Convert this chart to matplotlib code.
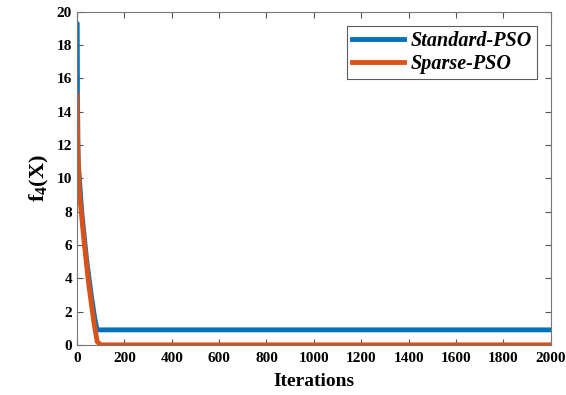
import matplotlib.pyplot as plt

# Convergence data
std_iter = [0, 1, 2, 5, 20, 40, 60, 75, 85, 2000]
std_vals = [19.3, 19.3, 15.0, 11.0, 8.0, 5.2, 3.0, 1.6, 0.9, 0.9]
sparse_iter = [0, 3, 10, 30, 50, 70, 85, 100, 2000]
sparse_vals = [15.0, 12.0, 9.2, 6.2, 3.6, 1.5, 0.2, 0.0, 0.0]

x_ticks = list(range(0, 2001, 200))
y_ticks = list(range(0, 21, 2))

plt.rcParams['font.family'] = 'Liberation Serif'
plt.rcParams['mathtext.fontset'] = 'custom'
plt.rcParams['mathtext.rm'] = 'Liberation Serif:bold'
plt.rcParams['mathtext.it'] = 'Liberation Serif:bold'

fig = plt.figure(figsize=(5.66, 3.95), dpi=100)
ax = fig.add_axes([0.136, 0.127, 0.837, 0.843])

ax.plot(std_iter, std_vals, color='#0072BD', lw=3.5, label='Standard-PSO')
ax.plot(sparse_iter, sparse_vals, color='#D95319', lw=3.5, label='Sparse-PSO')

ax.set_xlim(0, 2000)
ax.set_ylim(0, 20)
ax.set_xticks(x_ticks)
ax.set_yticks(y_ticks)
ax.tick_params(direction='in', top=True, right=True, labelsize=11, length=4, color='#555555')
ax.tick_params(axis='x', pad=5)
for lbl in ax.get_xticklabels() + ax.get_yticklabels():
    lbl.set_fontweight('bold')
for sp in ax.spines.values():
    sp.set_color('#777777')
    sp.set_linewidth(0.8)

ax.set_xlabel('Iterations', fontsize=14, fontweight='bold', labelpad=6)
ax.set_ylabel(r'f$_4$(X)', fontsize=16, fontweight='bold', labelpad=4)

leg = ax.legend(loc='upper right', prop={'family': 'Liberation Serif', 'weight': 'bold',
                                         'style': 'italic', 'size': 14.5},
                frameon=True, fancybox=False, edgecolor='#333333',
                borderaxespad=0.7, handlelength=2.6, handletextpad=0.3,
                borderpad=0.25, labelspacing=0.15)
leg.get_frame().set_linewidth(0.8)

fig.savefig('out.png', dpi=100)
